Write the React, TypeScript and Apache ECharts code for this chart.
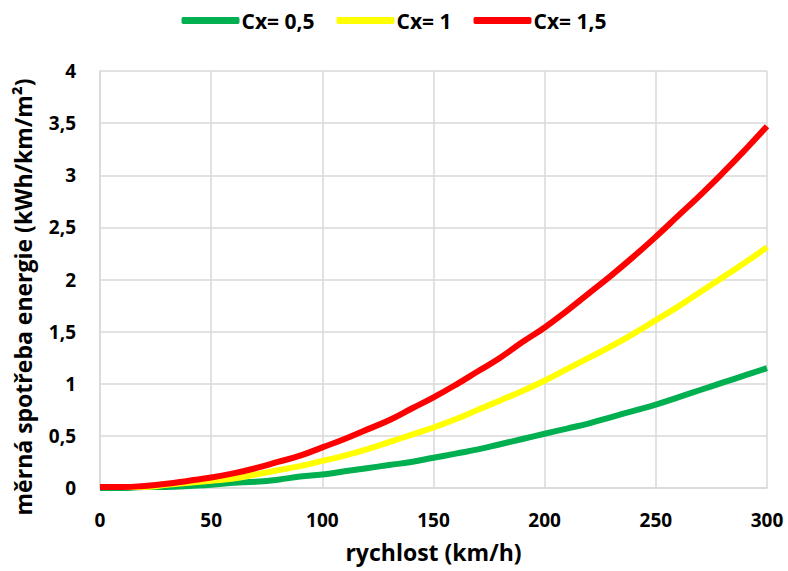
import React, { useEffect, useRef } from "react";
import * as echarts from "echarts";

const speeds = [0, 10, 20, 30, 40, 50, 60, 70, 80, 90, 100, 110, 120, 130, 140, 150, 160, 170, 180, 190, 200, 210, 220, 230, 240, 250, 260, 270, 280, 290, 300];
const cx05 = [0.0, 0.0, 0.01, 0.01, 0.02, 0.03, 0.05, 0.06, 0.08, 0.11, 0.13, 0.16, 0.19, 0.22, 0.25, 0.29, 0.33, 0.37, 0.42, 0.47, 0.52, 0.57, 0.62, 0.68, 0.74, 0.8, 0.87, 0.94, 1.01, 1.08, 1.15];
const cx1 = [0.01, 0.01, 0.01, 0.03, 0.05, 0.07, 0.09, 0.13, 0.17, 0.21, 0.26, 0.31, 0.37, 0.44, 0.51, 0.58, 0.66, 0.75, 0.84, 0.93, 1.03, 1.14, 1.25, 1.36, 1.48, 1.61, 1.74, 1.88, 2.02, 2.16, 2.31];
const cx15 = [0.01, 0.01, 0.02, 0.04, 0.07, 0.1, 0.14, 0.19, 0.25, 0.31, 0.39, 0.47, 0.56, 0.65, 0.76, 0.87, 0.99, 1.12, 1.25, 1.4, 1.54, 1.7, 1.87, 2.04, 2.22, 2.41, 2.61, 2.81, 3.02, 3.24, 3.47];
const seriesNames = ["Cx= 0,5", "Cx= 1", "Cx= 1,5"];
const seriesColors = ["#00b050", "#ffff00", "#ff0000"];
const xTitle = "rychlost (km/h)";
const yTitle = "měrná spotřeba energie (kWh/km/m²)";

const FONT = "'Open Sans', Lato, sans-serif";

export default function App() {
  const ref = useRef<HTMLDivElement>(null);
  useEffect(() => {
    if (!ref.current) return;
    const chart = echarts.init(ref.current, undefined, { renderer: "svg" });
    const datasets = [cx05, cx1, cx15];
    chart.setOption({
      animation: false,
      textStyle: { fontFamily: FONT },
      legend: {
        top: 5,
        left: "center",
        itemWidth: 58,
        itemHeight: 7,
        itemGap: 22,
        icon: "roundRect",
        textStyle: { fontFamily: FONT, fontWeight: "bold", fontSize: 21, color: "#000", padding: [0, 0, 0, -3] },
        data: seriesNames,
      },
      grid: { left: 100, right: 21, top: 71, bottom: 83, containLabel: false, outerBoundsMode: "none" },
      graphic: [
        {
          type: "text",
          x: 23,
          y: 297,
          rotation: Math.PI / 2,
          style: {
            text: yTitle,
            fontFamily: FONT,
            fontWeight: "bold",
            fontSize: 23,
            fill: "#000",
            align: "center",
            verticalAlign: "middle",
          },
        },
      ],
      xAxis: {
        type: "value",
        min: 0,
        max: 300,
        interval: 50,
        name: xTitle,
        nameLocation: "middle",
        nameGap: 52,
        nameTextStyle: { fontFamily: FONT, fontWeight: "bold", fontSize: 23, color: "#000" },
        axisLine: { show: true, lineStyle: { color: "#d9d9d9", width: 1.5 } },
        axisTick: { show: false },
        axisLabel: { margin: 22, fontFamily: FONT, fontWeight: "bold", fontSize: 19, color: "#000" },
        splitLine: { show: true, lineStyle: { color: "#d9d9d9", width: 1.5 } },
      },
      yAxis: {
        type: "value",
        min: 0,
        max: 4,
        interval: 0.5,
        axisLine: { show: true, lineStyle: { color: "#d9d9d9", width: 1.5 } },
        axisTick: { show: false },
        axisLabel: {
          margin: 24,
          fontFamily: FONT,
          fontWeight: "bold",
          fontSize: 19,
          color: "#000",
          formatter: (v: number) => String(v).replace(".", ","),
        },
        splitLine: { show: true, lineStyle: { color: "#d9d9d9", width: 1.5 } },
      },
      series: datasets.map((d, i) => ({
        name: seriesNames[i],
        type: "line",
        data: speeds.map((s, j) => [s, d[j]]),
        showSymbol: false,
        symbol: "none",
        smooth: true,
        lineStyle: { color: seriesColors[i], width: 6 },
        itemStyle: { color: seriesColors[i] },
      })),
    });
    return () => chart.dispose();
  }, []);
  return <div ref={ref} style={{ width: 788, height: 571, position: "absolute", left: 0, top: 0, background: "#fff" }} />;
}
